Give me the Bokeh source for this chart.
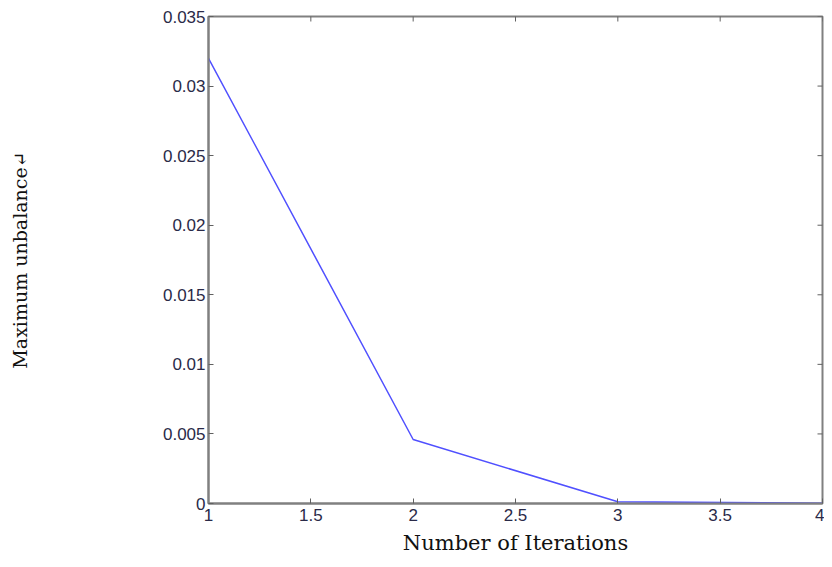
import math
from bokeh.plotting import figure
from bokeh.models import Range1d, FixedTicker
from bokeh.embed import file_html
from bokeh.resources import INLINE

iterations = [1, 2, 3, 4]
max_unbalance = [0.032, 0.0046, 0.00012, 0.00002]
x_ticks = [1, 1.5, 2, 2.5, 3, 3.5, 4]
y_ticks = [0, 0.005, 0.01, 0.015, 0.02, 0.025, 0.03, 0.035]

p = figure(width=824, height=559, output_backend="svg", toolbar_location=None,
           x_range=Range1d(x_ticks[0], x_ticks[-1]), y_range=Range1d(y_ticks[0], y_ticks[-1]),
           min_border_left=208, min_border_right=2, min_border_top=16, min_border_bottom=56)
p.background_fill_color = "white"
p.border_fill_color = "white"
p.grid.visible = False
p.outline_line_color = "#808080"
p.outline_line_width = 2

p.line(iterations, max_unbalance, line_color="#5050ff", line_width=1.5)

# inward ticks on the right and top edges of the box
p.scatter(x=[x_ticks[-1]] * len(y_ticks), y=y_ticks, marker="dash", size=10,
          line_color="#606060", line_width=1)
p.scatter(x=x_ticks, y=[y_ticks[-1]] * len(x_ticks), marker="dash", size=10,
          angle=math.pi / 2, line_color="#606060", line_width=1)

tick_col = "#2a2a48"
for ax in (p.xaxis[0], p.yaxis[0]):
    ax.major_tick_in = 5
    ax.major_tick_out = 0
    ax.minor_tick_line_color = None
    ax.axis_line_color = "#808080"
    ax.axis_line_width = 2
    ax.major_tick_line_color = "#606060"
    ax.major_label_text_font = "Liberation Sans"
    ax.major_label_text_font_size = "17px"
    ax.major_label_text_color = tick_col

p.xaxis[0].ticker = FixedTicker(ticks=x_ticks)
p.yaxis[0].ticker = FixedTicker(ticks=y_ticks)
p.yaxis[0].formatter.use_scientific = False
p.xaxis[0].major_label_standoff = 5
p.yaxis[0].major_label_standoff = 3

p.xaxis[0].axis_label = "Number of Iterations"
p.xaxis[0].axis_label_text_font = "DejaVu Serif"
p.xaxis[0].axis_label_text_font_style = "normal"
p.xaxis[0].axis_label_text_font_size = "21px"
p.xaxis[0].axis_label_text_color = "#111111"
p.xaxis[0].axis_label_standoff = 7

p.yaxis[0].axis_label = "Maximum unbalance\u21b5"
p.yaxis[0].axis_label_text_font = "DejaVu Serif"
p.yaxis[0].axis_label_text_font_style = "normal"
p.yaxis[0].axis_label_text_font_size = "19px"
p.yaxis[0].axis_label_text_color = "#111111"
p.yaxis[0].axis_label_standoff = 129

open("out.html", "w").write(file_html(p, INLINE))
